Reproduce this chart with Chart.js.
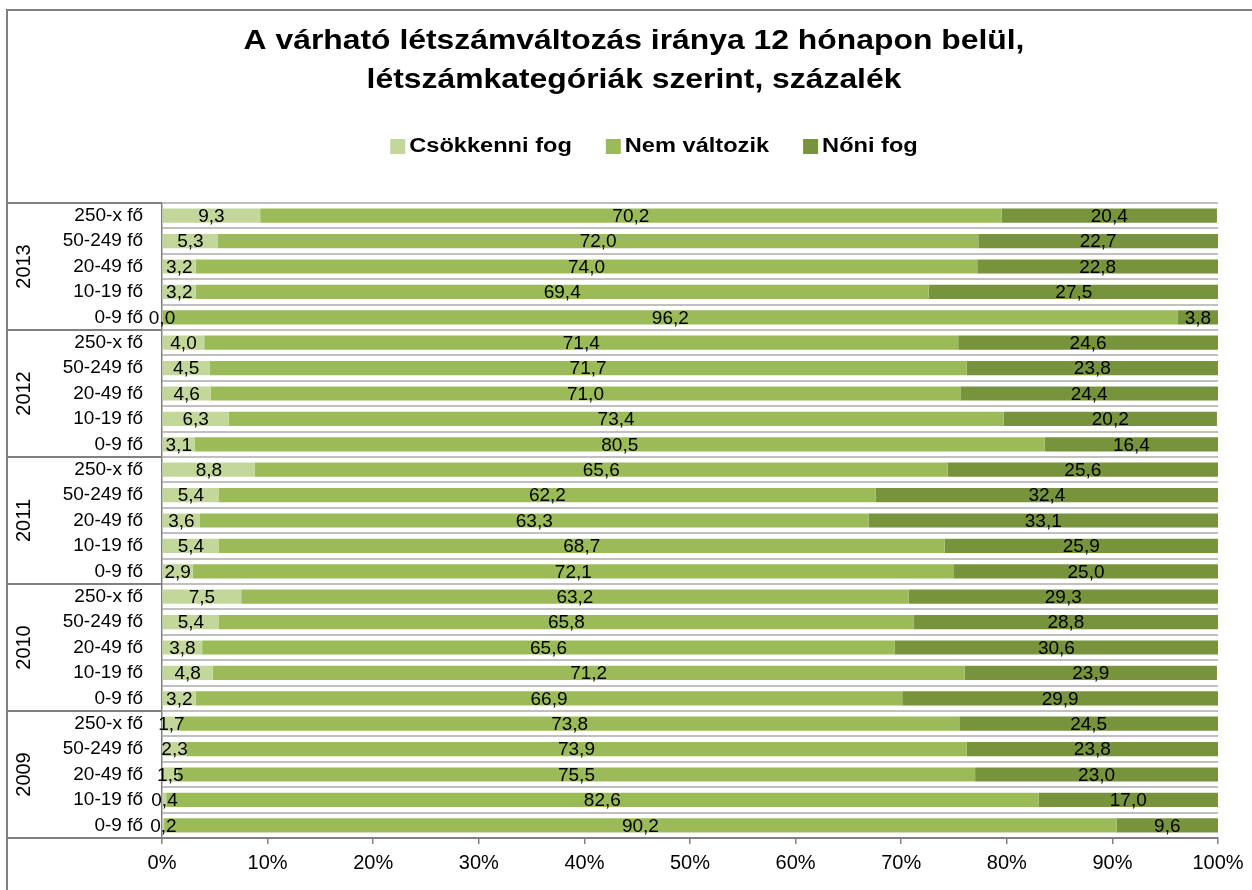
<!DOCTYPE html>
<html>
<head>
<meta charset="utf-8">
<script src="https://cdn.jsdelivr.net/npm/chart.js@4.4.1/dist/chart.umd.min.js"></script>
<style>
  body { margin:0; background:#fff; }
  canvas { display:block; }
</style>
</head>
<body>
<canvas id="chart" width="1252" height="890"></canvas>
<script>
const titleLines = ['A várható létszámváltozás iránya 12 hónapon belül,', 'létszámkategóriák szerint, százalék'];
const years = ['2013', '2012', '2011', '2010', '2009'];
const sizes = ['250-x fő', '50-249 fő', '20-49 fő', '10-19 fő', '0-9 fő'];
const labels = [];
years.forEach(()=>sizes.forEach(s=>labels.push(s)));

// top to bottom: 2013 .. 2009, each 250-x .. 0-9
const csokken = [9.3,5.3,3.2,3.2,0.0, 4.0,4.5,4.6,6.3,3.1, 8.8,5.4,3.6,5.4,2.9, 7.5,5.4,3.8,4.8,3.2, 1.7,2.3,1.5,0.4,0.2];
const nemValt = [70.2,72.0,74.0,69.4,96.2, 71.4,71.7,71.0,73.4,80.5, 65.6,62.2,63.3,68.7,72.1, 63.2,65.8,65.6,71.2,66.9, 73.8,73.9,75.5,82.6,90.2];
const noni    = [20.4,22.7,22.8,27.5,3.8, 24.6,23.8,24.4,20.2,16.4, 25.6,32.4,33.1,25.9,25.0, 29.3,28.8,30.6,23.9,29.9, 24.5,23.8,23.0,17.0,9.6];
const xTicks = [0,10,20,30,40,50,60,70,80,90,100];

const FONT = '"Liberation Sans", Arial, sans-serif';

// frame, title and legend
const headPlugin = {
  id:'head',
  beforeDraw(chart){
    const c = chart.ctx;
    c.save();
    c.strokeStyle = '#808080';
    c.lineWidth = 2;
    c.strokeRect(7, 10, 1400, 1000);

    c.fillStyle = '#000';
    c.textBaseline = 'alphabetic';
    c.textAlign = 'center';
    c.font = 'bold 27px ' + FONT;
    titleLines.forEach((t,i)=>{
      c.save();
      c.translate(634, 49 + i*39);
      c.scale(1.18, 1);
      c.fillText(t, 0, 0);
      c.restore();
    });

    // legend
    const sx = 1.18, box = 15, gap = 4, spacing = 34;
    c.font = 'bold 20px ' + FONT;
    c.textAlign = 'left';
    const items = chart.data.datasets.map(ds=>({ds, w: box + gap + c.measureText(ds.label).width*sx}));
    const total = items.reduce((a,it)=>a+it.w, 0) + spacing*(items.length-1);
    let x = 654 - total/2;
    items.forEach(it=>{
      c.fillStyle = it.ds.backgroundColor;
      c.fillRect(x, 139, box, box);
      c.fillStyle = '#000';
      c.save();
      c.translate(x + box + gap, 152);
      c.scale(sx, 1);
      c.fillText(it.ds.label, 0, 0);
      c.restore();
      x += it.w + spacing;
    });
    c.restore();
  }
};

// year group labels and separators on the left
const groupPlugin = {
  id:'groups',
  afterDraw(chart){
    const c = chart.ctx;
    const y = chart.scales.y;
    const area = chart.chartArea;
    c.save();
    c.strokeStyle = '#808080';
    c.lineWidth = 2;
    const n = sizes.length;
    for (let g=0; g<=years.length; g++){
      let py;
      if (g===0) py = area.top;
      else if (g===years.length) py = area.bottom;
      else py = (y.getPixelForValue(g*n-1) + y.getPixelForValue(g*n))/2;
      c.beginPath(); c.moveTo(7, py); c.lineTo(area.left, py); c.stroke();
    }
    c.fillStyle = '#000';
    c.font = '20px ' + FONT;
    c.textAlign = 'center';
    c.textBaseline = 'middle';
    years.forEach((yr,g)=>{
      const cy = (y.getPixelForValue(g*n) + y.getPixelForValue(g*n+n-1))/2;
      c.save();
      c.translate(24, cy);
      c.rotate(-Math.PI/2);
      c.fillText(yr, 0, 0);
      c.restore();
    });
    c.restore();
  }
};

// value labels in the middle of each segment
const valuePlugin = {
  id:'values',
  afterDatasetsDraw(chart){
    const c = chart.ctx;
    c.save();
    c.fillStyle = '#000';
    c.font = '19px ' + FONT;
    c.textAlign = 'center';
    c.textBaseline = 'middle';
    chart.data.datasets.forEach((ds,i)=>{
      const meta = chart.getDatasetMeta(i);
      meta.data.forEach((bar,j)=>{
        const v = ds.data[j];
        const cx = (bar.x + bar.base)/2;
        c.fillText(v.toFixed(1).replace('.', ','), cx, bar.y + 1);
      });
    });
    c.restore();
  }
};

new Chart(document.getElementById('chart'), {
  type:'bar',
  data:{
    labels: labels,
    datasets:[
      {label:'Csökkenni fog', data:csokken, backgroundColor:'#c4d79b'},
      {label:'Nem változik', data:nemValt, backgroundColor:'#9bbb59'},
      {label:'Nőni fog', data:noni, backgroundColor:'#77933c'}
    ]
  },
  options:{
    indexAxis:'y',
    responsive:false,
    animation:false,
    devicePixelRatio:1,
    layout:{padding:{left:0, right:34, top:203, bottom:0}},
    datasets:{bar:{barPercentage:0.56, categoryPercentage:1, borderWidth:0}},
    scales:{
      x:{
        stacked:true, min:0, max:100,
        afterBuildTicks(s){ s.ticks = xTicks.map(v=>({value:v})); },
        afterFit(s){ s.height = 52; },
        ticks:{callback:v=>v+'%', color:'#000', font:{family:FONT, size:20}, padding:7, maxRotation:0},
        grid:{drawOnChartArea:false, drawTicks:true, tickLength:6, color:'#808080', lineWidth:1.5},
        border:{color:'#808080', width:2}
      },
      y:{
        stacked:true,
        afterFit(s){ s.width = 162; },
        ticks:{color:'#000', font:{family:FONT, size:19}, padding:19, autoSkip:false},
        grid:{color:'#c0c0c0', lineWidth:2, drawTicks:false},
        border:{color:'#808080', width:1.5}
      }
    },
    plugins:{
      title:{display:false},
      legend:{display:false},
      tooltip:{enabled:false}
    }
  },
  plugins:[headPlugin, groupPlugin, valuePlugin]
});
</script>
</body>
</html>
